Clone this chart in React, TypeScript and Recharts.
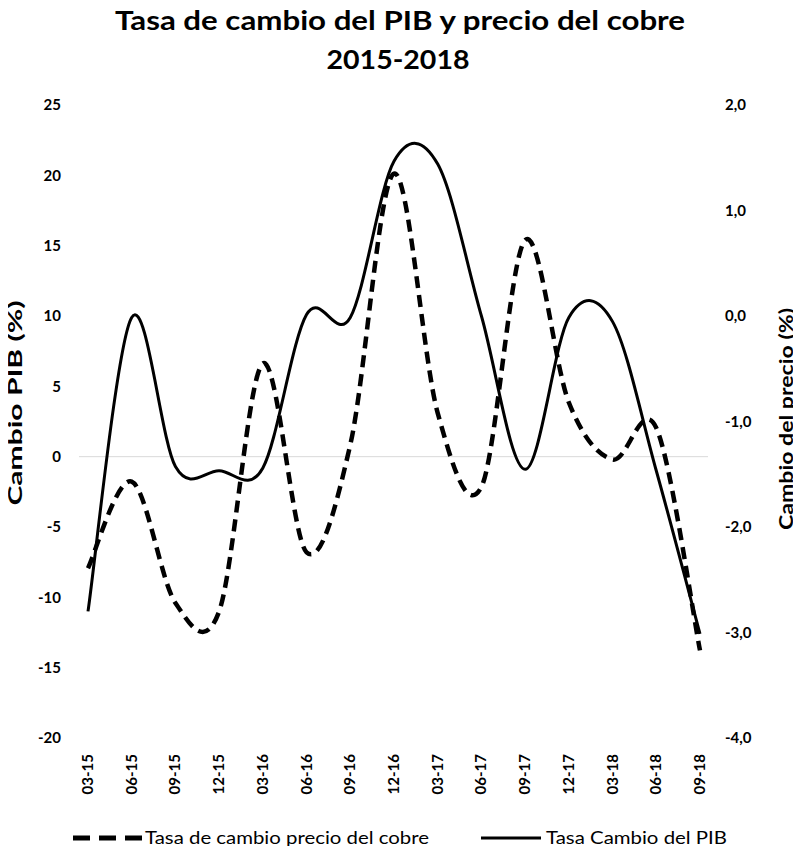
import React from 'react';
import { LineChart, Line, XAxis, YAxis, ReferenceLine, Legend } from 'recharts';

const FONT = 'Lato, "Open Sans", sans-serif';

const periods = [
  '03-15', '06-15', '09-15', '12-15', '03-16', '06-16', '09-16', '12-16',
  '03-17', '06-17', '09-17', '12-17', '03-18', '06-18', '09-18',
];
// Tasa Cambio del PIB (eje izquierdo)
const pibChange = [-11.0, 9.9, -0.7, -1.0, -0.8, 10.1, 9.9, 21.0, 20.8, 10.0, -0.9, 9.9, 9.6, -1.0, -12.6];
// Tasa de cambio precio del cobre (eje derecho)
const copperChange = [-2.39, -1.57, -2.72, -2.8, -0.45, -2.24, -1.22, 1.35, -0.92, -1.62, 0.72, -0.82, -1.36, -1.06, -3.17];

const leftTicks = [-20, -15, -10, -5, 0, 5, 10, 15, 20, 25];
const rightTicks = [-4, -3, -2, -1, 0, 1, 2];

const data = periods.map((p, i) => ({ period: p, pib: pibChange[i], cobre: copperChange[i] }));

// smoothed line like excel's (catmull-rom through every point)
const smoothCurve = (context: any) => {
  let pts: number[][] = [];
  return {
    areaStart() {},
    areaEnd() {},
    lineStart() {
      pts = [];
    },
    point(x: number, y: number) {
      pts.push([+x, +y]);
    },
    lineEnd() {
      if (!pts.length) return;
      context.moveTo(pts[0][0], pts[0][1]);
      for (let i = 0; i < pts.length - 1; i++) {
        const p0 = pts[Math.max(i - 1, 0)];
        const p1 = pts[i];
        const p2 = pts[i + 1];
        const p3 = pts[Math.min(i + 2, pts.length - 1)];
        context.bezierCurveTo(
          p1[0] + (p2[0] - p0[0]) / 6, p1[1] + (p2[1] - p0[1]) / 6,
          p2[0] - (p3[0] - p1[0]) / 6, p2[1] - (p3[1] - p1[1]) / 6,
          p2[0], p2[1]
        );
      }
    },
  };
};

const tickStyle = { fontFamily: FONT, fontSize: 15, fontWeight: 700, fill: '#000' };

const PeriodTick = ({ x, y, payload }: any) => (
  <text
    x={x}
    y={y}
    dy={5}
    transform={`rotate(-90 ${x} ${y})`}
    textAnchor="end"
    fontFamily={FONT}
    fontSize={15}
    fontWeight={700}
    fill="#000"
  >
    {payload.value}
  </text>
);

// where each legend entry sits, by series
const legendSlots: Record<string, any> = {
  cobre: { lineFrom: 73, lineTo: 142, textX: 145, textLen: 284 },
  pib: { lineFrom: 481, lineTo: 541, textX: 546, textLen: 181 },
};

const LegendContent = ({ payload }: any) => (
  <svg width={801} height={30}>
    {(payload || []).map((entry: any) => {
      const s = legendSlots[entry.dataKey];
      if (!s) return null;
      const dashed = entry.dataKey === 'cobre';
      return (
        <g key={entry.dataKey}>
          <line
            x1={s.lineFrom}
            x2={s.lineTo}
            y1={15}
            y2={15}
            stroke="#000"
            strokeWidth={dashed ? 5 : 3}
            strokeDasharray={dashed ? '17 9' : undefined}
          />
          <text x={s.textX} y={15} dy="0.36em" fontFamily={FONT} fontSize={18} fill="#000"
            textLength={s.textLen} lengthAdjust="spacingAndGlyphs">
            {entry.value}
          </text>
        </g>
      );
    })}
  </svg>
);

const App: React.FC = () => {
  return (
    <div style={{ position: 'relative', width: 801, height: 854, margin: -8, background: '#fff', overflow: 'hidden' }}>
      <svg width={801} height={90} style={{ position: 'absolute', left: 0, top: 0 }}>
        <text x={400} y={30} textAnchor="middle" fontFamily={FONT} fontSize={27} fontWeight={700}
          textLength={570} lengthAdjust="spacingAndGlyphs">
          Tasa de cambio del PIB y precio del cobre
        </text>
        <text x={398} y={69} textAnchor="middle" fontFamily={FONT} fontSize={27} fontWeight={700}
          textLength={143} lengthAdjust="spacingAndGlyphs">
          2015-2018
        </text>
      </svg>
      <div style={{ position: 'absolute', left: 0, top: 0 }}>
        <LineChart width={801} height={854} data={data} margin={{ top: 105, right: 0, bottom: 26, left: 0 }}>
          <XAxis
            dataKey="period"
            interval={0}
            axisLine={false}
            tickLine={false}
            tickSize={0}
            tickMargin={16}
            height={60}
            padding={{ left: 9, right: 8 }}
            tick={<PeriodTick />}
          />
          <YAxis
            yAxisId="pib"
            orientation="left"
            width={79}
            domain={[-20, 25]}
            ticks={leftTicks}
            axisLine={false}
            tickLine={false}
            tickSize={0}
            tickMargin={18}
            tick={tickStyle}
            label={() => (
              <text x={15} y={403} transform="rotate(-90 15 403)" textAnchor="middle" dominantBaseline="central"
                fontFamily={FONT} fontSize={18} fontWeight={700} fill="#000"
                textLength={205} lengthAdjust="spacingAndGlyphs">
                Cambio PIB (%)
              </text>
            )}
          />
          <YAxis
            yAxisId="cobre"
            orientation="right"
            width={93}
            domain={[-4, 2]}
            ticks={rightTicks}
            axisLine={false}
            tickLine={false}
            tickSize={0}
            tickMargin={17}
            tick={tickStyle}
            tickFormatter={(v: number) => v.toFixed(1).replace('.', ',')}
            label={() => (
              <text x={786} y={419} transform="rotate(-90 786 419)" textAnchor="middle" dominantBaseline="central"
                fontFamily={FONT} fontSize={18} fontWeight={700} fill="#000"
                textLength={222} lengthAdjust="spacingAndGlyphs">
                Cambio del precio (%)
              </text>
            )}
          />
          <ReferenceLine yAxisId="pib" y={0} stroke="#d9d9d9" strokeWidth={1} />
          <Legend
            verticalAlign="bottom"
            content={<LegendContent />}
            wrapperStyle={{ left: 0, bottom: 1, width: 801, height: 30 }}
          />
          <Line
            yAxisId="cobre"
            dataKey="cobre"
            name="Tasa de cambio precio del cobre"
            type={smoothCurve as any}
            stroke="#000"
            strokeWidth={4.5}
            strokeDasharray="12 7"
            dot={false}
            activeDot={false}
            isAnimationActive={false}
          />
          <Line
            yAxisId="pib"
            dataKey="pib"
            name="Tasa Cambio del PIB"
            type={smoothCurve as any}
            stroke="#000"
            strokeWidth={3}
            dot={false}
            activeDot={false}
            isAnimationActive={false}
          />
        </LineChart>
      </div>
    </div>
  );
};

export default App;
